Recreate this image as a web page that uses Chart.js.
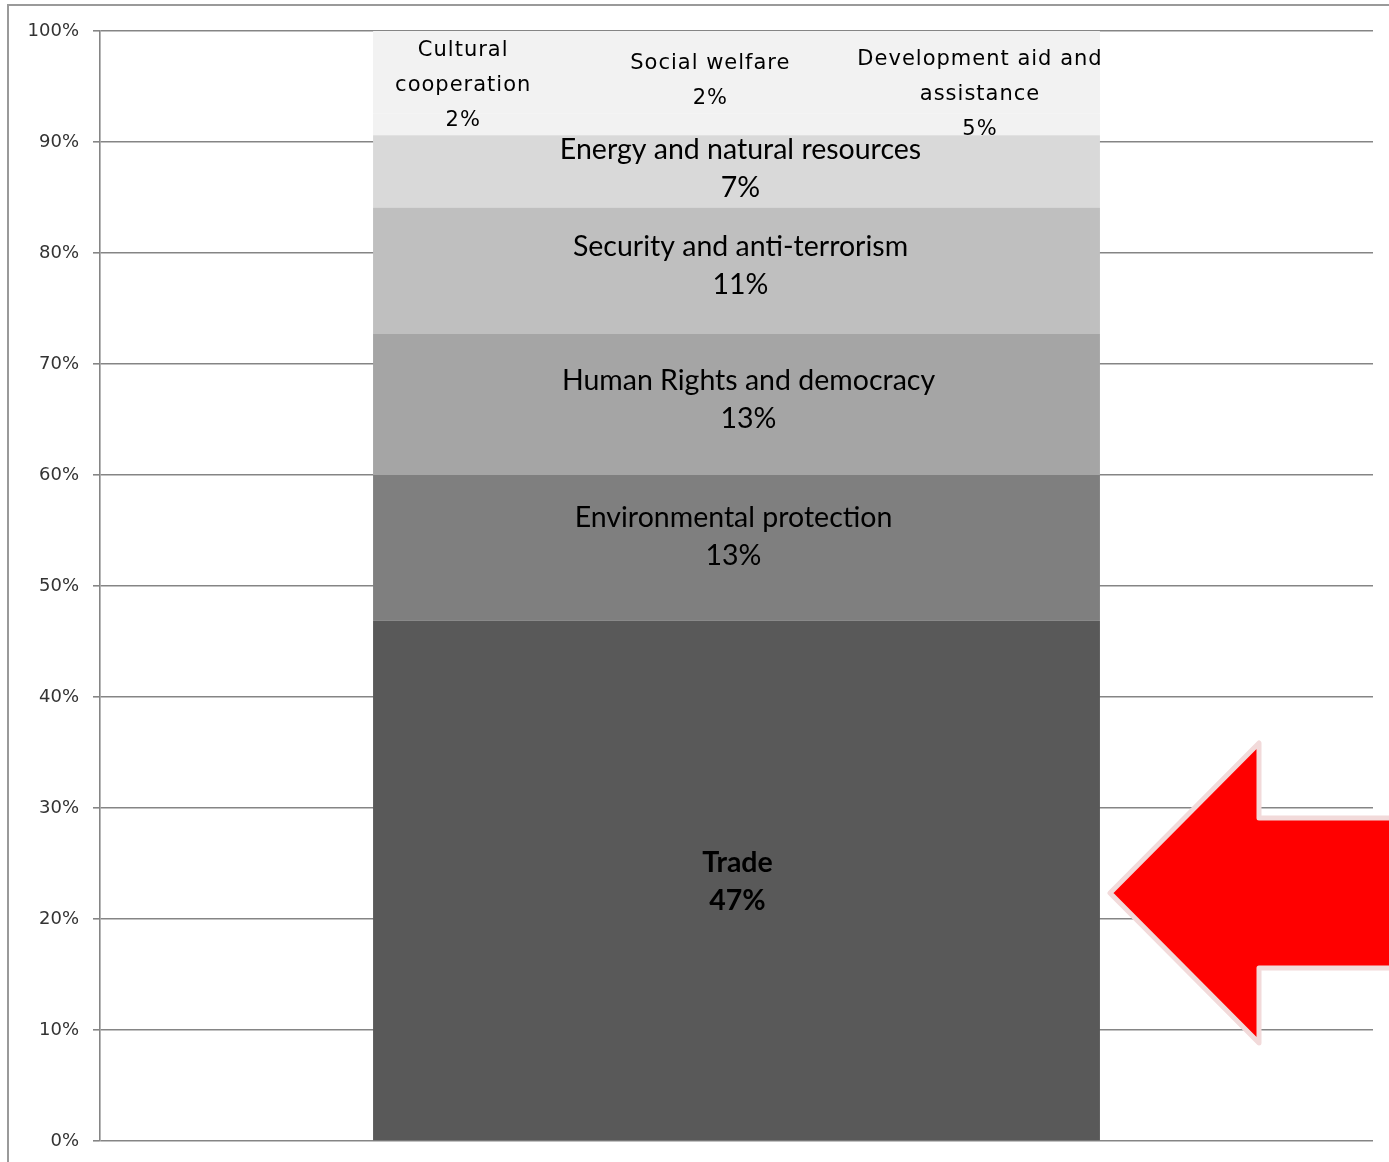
<!DOCTYPE html>
<html>
<head>
<meta charset="utf-8">
<script src="https://cdn.jsdelivr.net/npm/chart.js@4.4.1/dist/chart.umd.min.js"></script>
<style>
  html, body { margin: 0; padding: 0; background: #fff; }
  .wrap { width: 1389px; height: 1162px; position: relative; }
</style>
</head>
<body>
<div class="wrap"><canvas id="c" width="1389" height="1162"></canvas></div>
<script>
// One 100% stacked column, bottom segment first.
const categories = [''];
const segNames = [
  'Trade',
  'Environmental protection',
  'Human Rights and democracy',
  'Security and anti-terrorism',
  'Energy and natural resources',
  'Cultural cooperation',
  'Social welfare',
  'Development aid and assistance',
];
const segValues = [46.9, 13.1, 12.7, 11.4, 6.5, 2, 2, 5.4];
const segLabels = ['47%', '13%', '13%', '11%', '7%', '2%', '2%', '5%'];
const segColors = ['#595959', '#7f7f7f', '#a5a5a5', '#bfbfbf', '#d9d9d9', '#f2f2f2', '#f2f2f2', '#f2f2f2'];
const yTicks = [0, 10, 20, 30, 40, 50, 60, 70, 80, 90, 100];

// label text lines for each segment (top three share one band, side by side)
const labelLines = [
  ['Trade', segLabels[0]],
  ['Environmental protection', segLabels[1]],
  ['Human Rights and democracy', segLabels[2]],
  ['Security and anti-terrorism', segLabels[3]],
  ['Energy and natural resources', segLabels[4]],
  ['Cultural', 'cooperation', segLabels[5]],
  ['Social welfare', segLabels[6]],
  ['Development aid and', 'assistance', segLabels[7]],
];

const MAIN_FONT = '"Lato", "Open Sans", sans-serif';
const SMALL_FONT = '"DejaVu Sans", sans-serif';

const segmentLabels = {
  id: 'segmentLabels',
  afterDatasetsDraw(chart) {
    const ctx = chart.ctx;
    ctx.save();
    ctx.fillStyle = '#000';
    ctx.textAlign = 'center';
    ctx.textBaseline = 'middle';
    // the top band spans the last three datasets
    const topBand = [5, 6, 7].map(i => chart.getDatasetMeta(i).data[0]);
    const bandTop = topBand[2].y;
    const bandBot = topBand[0].base;
    const first = topBand[0];
    const left = first.x - first.width / 2;
    const w = first.width;

    // small nudges so the text sits where the original placed it
    const dx = [1, -3, 12, 4, 4];
    const dy = [2, -11, -5, -5, -3];

    labelLines.forEach((lines, i) => {
      const bar = chart.getDatasetMeta(i).data[0];
      if (i < 5) {
        ctx.letterSpacing = '0px';
        ctx.font = (i === 0 ? 'bold ' : '') + '28.5px ' + MAIN_FONT;
        const gap = 38;
        const cy = (bar.y + bar.base) / 2 + dy[i];
        const y0 = cy - gap * (lines.length - 1) / 2;
        lines.forEach((t, k) => ctx.fillText(t, bar.x + dx[i], y0 + k * gap));
      } else {
        ctx.font = '21px ' + SMALL_FONT;
        ctx.letterSpacing = '1px';
        const fx = [0.124, 0.464, 0.835][i - 5];
        const fy = [0.165, 0.29, 0.25][i - 5];
        const gap = 35;
        const x = left + fx * w;
        const y0 = bandTop + 2 + fy * (bandBot - bandTop);
        lines.forEach((t, k) => ctx.fillText(t, x, y0 + k * gap));
      }
    });
    ctx.restore();
  }
};

// frame of the original sheet plus the red call-out arrow
const decor = {
  id: 'decor',
  afterDraw(chart) {
    const ctx = chart.ctx;
    ctx.save();
    ctx.strokeStyle = '#9a9a9a';
    ctx.lineWidth = 2;
    ctx.beginPath();
    ctx.moveTo(8, 1162);
    ctx.lineTo(8, 5);
    ctx.lineTo(1389, 5);
    ctx.stroke();

    ctx.beginPath();
    ctx.moveTo(1110, 893);
    ctx.lineTo(1259, 743);
    ctx.lineTo(1259, 818);
    ctx.lineTo(1395, 818);
    ctx.lineTo(1395, 968);
    ctx.lineTo(1259, 968);
    ctx.lineTo(1259, 1043);
    ctx.closePath();
    ctx.fillStyle = '#ff0000';
    ctx.fill();
    ctx.lineJoin = 'round';
    ctx.lineWidth = 5;
    ctx.strokeStyle = '#f2dada';
    ctx.stroke();
    ctx.restore();
  }
};

new Chart(document.getElementById('c'), {
  type: 'bar',
  data: {
    labels: categories,
    datasets: segNames.map((name, i) => ({
      label: name,
      data: [segValues[i]],
      backgroundColor: segColors[i],
      borderWidth: 0,
      barPercentage: 1,
      categoryPercentage: 0.571,
    })),
  },
  options: {
    responsive: false,
    animation: false,
    layout: { padding: { left: 0, top: 31, right: 16, bottom: 21 } },
    plugins: { legend: { display: false }, tooltip: { enabled: false } },
    scales: {
      x: { stacked: true, display: false },
      y: {
        stacked: true,
        min: 0,
        max: 100,
        afterFit: s => { s.width = 100; s.paddingTop = 0; s.paddingBottom = 0; },
        afterBuildTicks: s => { s.ticks = yTicks.map(v => ({ value: v })); },
        ticks: {
          callback: v => v + '%',
          font: { family: SMALL_FONT, size: 18 },
          color: '#333',
          padding: 14,
        },
        grid: { color: '#858585', lineWidth: 1.6, tickLength: 7 },
        border: { color: '#858585', width: 1.6 },
      },
    },
  },
  plugins: [segmentLabels, decor],
});
</script>
</body>
</html>
